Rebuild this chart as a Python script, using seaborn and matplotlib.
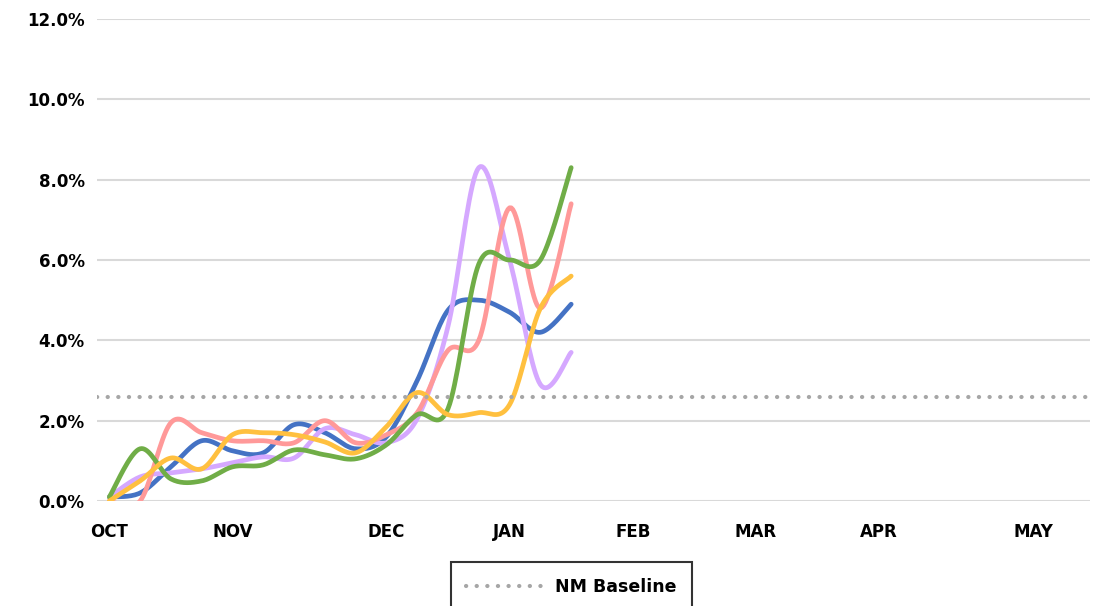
import numpy as np
import pandas as pd
import matplotlib
matplotlib.use("Agg")
import matplotlib.pyplot as plt
import seaborn as sns

# weekly values (%), weeks starting at OCT
weeks = list(range(16))
blue = [0.1, 0.2, 0.85, 1.5, 1.25, 1.2, 1.9, 1.7, 1.3, 1.6, 3.0, 4.75, 5.0, 4.7, 4.2, 4.9]
purple = [0.1, 0.6, 0.7, 0.8, 0.95, 1.1, 1.07, 1.8, 1.65, 1.45, 2.05, 4.35, 8.3, 6.0, 2.9, 3.7]
pink = [0.0, 0.0, 1.95, 1.7, 1.5, 1.5, 1.45, 2.0, 1.45, 1.65, 2.2, 3.75, 4.0, 7.3, 4.8, 7.4]
green = [0.1, 1.3, 0.55, 0.5, 0.85, 0.9, 1.27, 1.15, 1.05, 1.4, 2.15, 2.3, 5.9, 6.0, 6.0, 8.3]
yellow = [0.0, 0.5, 1.07, 0.8, 1.65, 1.7, 1.65, 1.47, 1.2, 1.85, 2.7, 2.15, 2.2, 2.4, 4.8, 5.6]
baseline = 2.6

months = ["OCT", "NOV", "DEC", "JAN", "FEB", "MAR", "APR", "MAY"]
month_weeks = [0, 4, 9, 13, 17, 21, 25, 30]

series = [("blue", blue, "#4472C4"), ("purple", purple, "#D5A8FF"),
          ("pink", pink, "#FF9999"), ("green", green, "#70AD47"),
          ("yellow", yellow, "#FFC03F")]


def smooth(x, y, n=20):
    # Catmull-Rom style curve through the points (like Excel's smoothed line)
    x = np.asarray(x, float)
    y = np.asarray(y, float)
    px = np.concatenate([[x[0]], x, [x[-1]]])
    py = np.concatenate([[y[0]], y, [y[-1]]])
    xs, ys = [], []
    for i in range(1, len(px) - 2):
        p0, p1, p2, p3 = (np.array([px[j], py[j]]) for j in range(i - 1, i + 3))
        c1 = p1 + (p2 - p0) / 6
        c2 = p2 - (p3 - p1) / 6
        t = np.linspace(0, 1, n)[:, None]
        b = (1 - t) ** 3 * p1 + 3 * (1 - t) ** 2 * t * c1 + 3 * (1 - t) * t ** 2 * c2 + t ** 3 * p2
        xs.extend(b[:, 0])
        ys.extend(b[:, 1])
    return np.array(xs), np.array(ys)


sns.set_style("white")
plt.rcParams["font.family"] = ["DejaVu Sans"]
plt.rcParams["text.color"] = "black"
plt.rcParams["xtick.color"] = "black"
plt.rcParams["ytick.color"] = "black"

fig = plt.figure(figsize=(10.97, 6.06), dpi=100)
ax = fig.add_axes([97 / 1097, 1 - 501 / 606, 993 / 1097, 482 / 606])

for name, vals, color in series:
    sx, sy = smooth(weeks, vals)
    df = pd.DataFrame({"x": sx, "y": sy})
    sns.lineplot(data=df, x="x", y="y", ax=ax, color=color, linewidth=3.4,
                 sort=False, estimator=None, solid_capstyle="round")

ax.axhline(baseline, color="#A6A6A6", linewidth=3, linestyle=(0, (0.05, 2.5)),
           dash_capstyle="round", label="NM Baseline")

ax.set_xlim(-0.4, 31.85)
ax.set_ylim(0, 12)
ax.set_yticks(np.arange(0, 13, 2))
ax.set_yticklabels([f"{v:.1f}%" for v in np.arange(0, 13, 2)], fontweight="bold", fontsize=12)
ax.set_xticks(month_weeks)
ax.set_xticklabels(months, fontweight="bold", fontsize=12)
ax.tick_params(axis="both", length=0, colors="black")
ax.tick_params(axis="x", pad=16)
ax.tick_params(axis="y", pad=9)
ax.grid(axis="y", color="#D9D9D9", linewidth=1.5)
ax.set_axisbelow(True)
for s in ax.spines.values():
    s.set_visible(False)
ax.set_xlabel("")
ax.set_ylabel("")

handles = [h for h in ax.get_lines() if h.get_label() == "NM Baseline"]
leg = fig.legend(handles=handles, labels=["NM Baseline"], loc="upper center",
                 bbox_to_anchor=(571.5 / 1097, 1 - 562 / 606), borderaxespad=0,
                 frameon=True, fancybox=False, edgecolor="black", handlelength=4.3,
                 borderpad=0.9, prop={"weight": "bold", "size": 12.5})
leg.get_frame().set_linewidth(1.5)

fig.savefig("out.png", dpi=100)
